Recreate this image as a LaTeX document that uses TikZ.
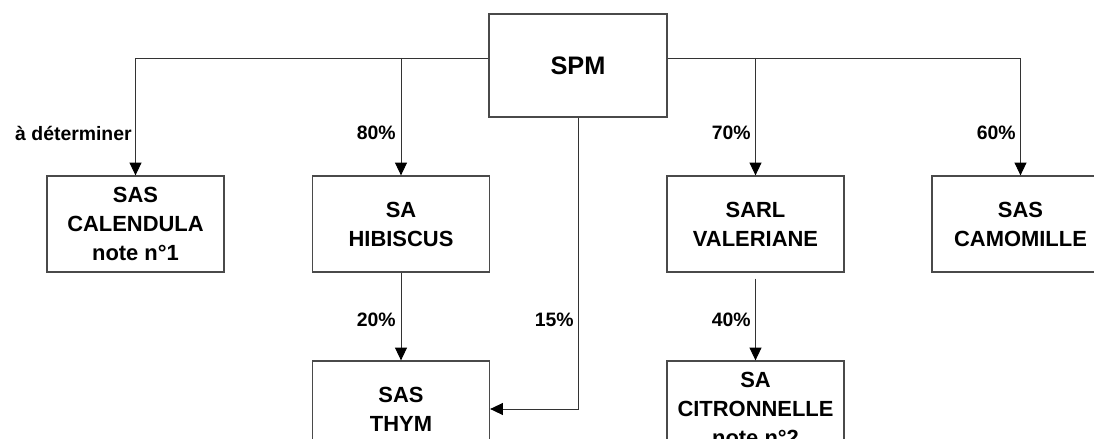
\documentclass[tikz,border=0pt]{standalone}
\usepackage{fontspec}
\setmainfont{Liberation Sans}
\usepackage{xcolor}
\definecolor{edge}{HTML}{4A4A4A}
\definecolor{wire}{HTML}{333333}
\usepackage{tikz}
\usetikzlibrary{arrows.meta,positioning}

\begin{document}
\begin{tikzpicture}[
  x=0.025cm, y=-0.025cm,
  box/.style={draw=edge, line width=0.9pt, fill=white, minimum width=4.425cm, minimum height=2.4cm, font=\fontsize{15.6}{20.6}\selectfont\bfseries, align=center, inner sep=0pt},
  topbox/.style={box, minimum width=4.45cm, minimum height=2.575cm, font=\fontsize{18}{22}\selectfont\bfseries},
  lbl/.style={anchor=east, inner sep=0pt, font=\fontsize{13.8}{16}\selectfont\bfseries},
  arr/.style={-{Triangle[width=0.3cm, length=0.32cm, color=black]}, line width=0.7pt, wire}
]
  \path[use as bounding box, clip] (0,0) rectangle (1094,439);
  \node[topbox] (spm) at (578,65.5) {SPM};
  \node[box] (cal) at (135.5,224) {SAS\\CALENDULA\\note n°1};
  \node[box] (hib) at (401,224) {SA\\HIBISCUS};
  \node[box] (val) at (755.5,224) {SARL\\VALERIANE};
  \node[box] (cam) at (1020.5,224) {SAS\\CAMOMILLE};
  \node[box] (thym) at (401,409) {SAS\\THYM};
  \node[box] (cit) at (755.5,409) {SA\\CITRONNELLE\\note n°2};
  \coordinate (busL) at (136,58);
  \coordinate (busR) at (1021,58);

  \draw[arr] (spm.west |- busL) -| (cal.north);
  \draw[arr] (hib.north |- busL) -- (hib.north);
  \draw[arr] (spm.east |- busR) -| (cam.north);
  \draw[arr] (val.north |- busR) -- (val.north);
  \draw[arr] (hib.south) -- (thym.north);
  \draw[arr] ([yshift=-0.15cm]val.south) -- (cit.north);
  \draw[arr] (spm.south) |- (thym.east);

  \node[lbl] (ladet) at (132,133) {à déterminer};
  \node[lbl] (l80) at (396,133) {80\%};
  \node[lbl] (l70) at (751,133) {70\%};
  \node[lbl] (l60) at (1016,133) {60\%};
  \node[lbl] (l20) at (396,320) {20\%};
  \node[lbl] (l15) at (574,320) {15\%};
  \node[lbl] (l40) at (751,320) {40\%};
\end{tikzpicture}
\end{document}
